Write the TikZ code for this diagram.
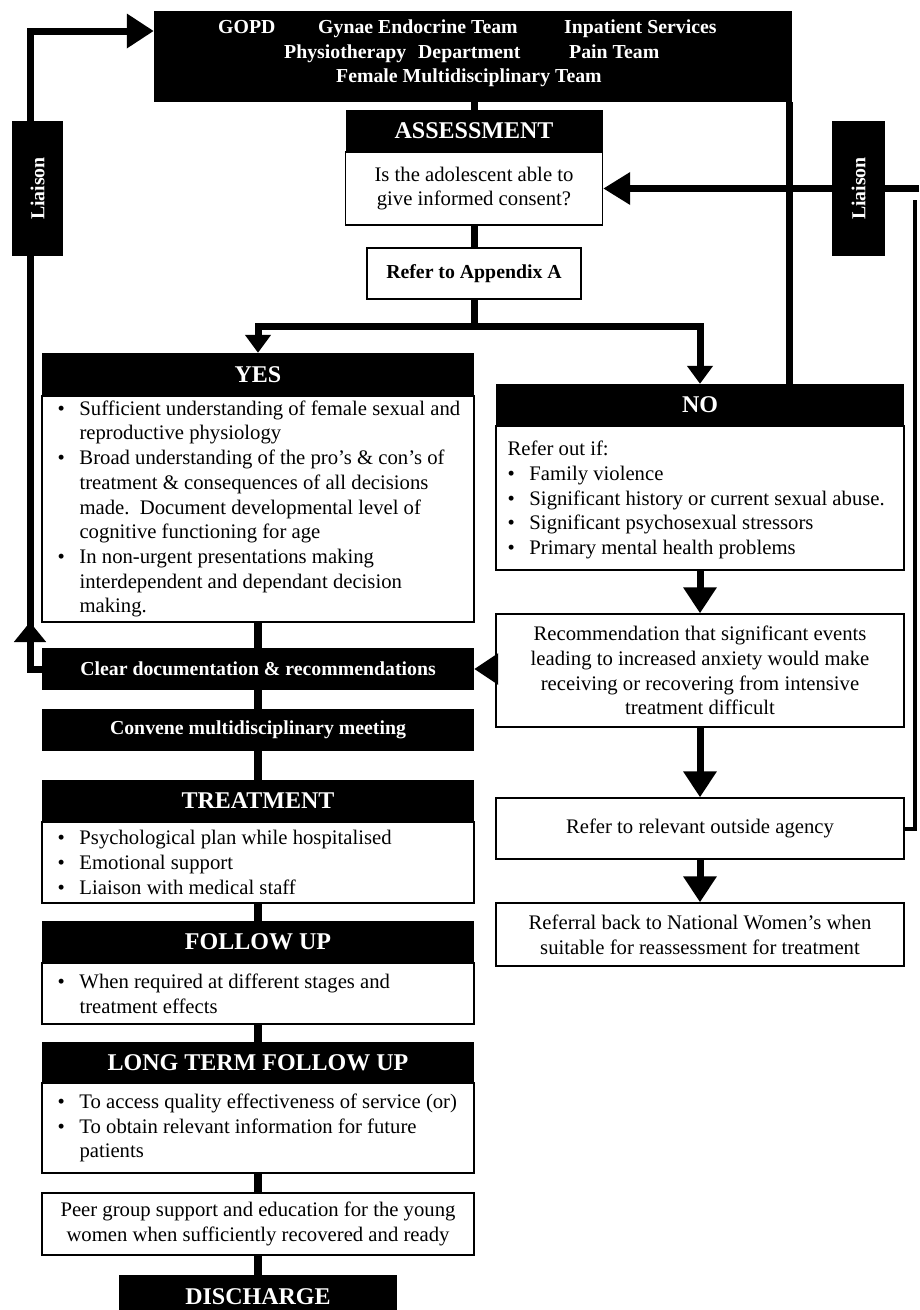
\documentclass[tikz,border=0pt]{standalone}
\usepackage{fontspec}
\usepackage{graphicx}
\setmainfont{Liberation Serif}
\usetikzlibrary{arrows.meta}
\newcommand\bodyf{\fontsize{20.7}{24.7}\selectfont}
\newcommand\headf{\fontsize{24}{28}\selectfont\bfseries}
\newcommand\boldf{\fontsize{19.8}{24.5}\selectfont\bfseries}
\newcommand\bul{\makebox[22pt][l]{\textbullet}}
\newcommand\ind{\hspace*{22pt}}
\begin{document}
\begin{tikzpicture}[x=1pt,y=-1pt,
 every node/.style={inner sep=0pt},
 conn/.style={line width=7pt},
 lconn/.style={line width=8pt},
 big/.style={-{Triangle[length=26pt,width=32pt]}},
 small/.style={-{Triangle[length=18pt,width=25pt]}},
 wbox/.style={draw=black, line width=1.4pt, fill=white, align=center, font=\bodyf},
 hbox/.style={fill=black, text=white, font=\headf},
 sbox/.style={fill=black, text=white, font=\boldf},
 btext/.style={align=left, font=\bodyf, anchor=west},
 ttext/.style={text=white, font=\boldf, anchor=base west},
]
\useasboundingbox (0,0) rectangle (919,1310);
\fill[white] (0,0) rectangle (919,1310);

% top box
\node[fill=black, minimum width=638pt, minimum height=91pt] (topbox) at (473,56.5) {};
\node[ttext] (t1) at (218,33) {GOPD};
\node[ttext] (t2) at (318,33) {Gynae Endocrine Team};
\node[ttext] (t3) at (564,33) {Inpatient Services};
\node[ttext] (t4) at (284,58) {Physiotherapy};
\node[ttext] (t4b) at (418,58) {Department};
\node[ttext] (t5) at (569,58) {Pain Team};
\node[ttext] (t6) at (336,82) {Female Multidisciplinary Team};

% assessment
\node[wbox, minimum width=257pt, minimum height=73pt] (assbody) at (474,188.5) {Is the adolescent able to\\give informed consent?};
\node[hbox, minimum width=257pt, minimum height=42pt] (asshead) at (474,131) {ASSESSMENT};
\node[wbox, font=\boldf, minimum width=214pt, minimum height=51pt] (app) at (474,273.5) {Refer to Appendix A};

% YES
\node[wbox, minimum width=432pt, minimum height=226pt] (yesbody) at (258,509) {};
\node[btext] (yestext) at ([xshift=16pt]yesbody.west) {\bul Sufficient understanding of female sexual and\\
\ind reproductive physiology\\
\bul Broad understanding of the pro's \& con's of\\
\ind treatment \& consequences of all decisions\\
\ind made.\ \ Document developmental level of\\
\ind cognitive functioning for age\\
\bul In non-urgent presentations making\\
\ind interdependent and dependant decision\\
\ind making.};
\node[hbox, minimum width=432pt, minimum height=43pt] (yeshead) at (258,374.5) {YES};

% NO
\node[wbox, minimum width=408pt, minimum height=144pt] (nobody) at (700,498) {};
\node[btext] (notext) at ([xshift=12pt,yshift=-2pt]nobody.west) {Refer out if:\\
\bul Family violence\\
\bul Significant history or current sexual abuse.\\
\bul Significant psychosexual stressors\\
\bul Primary mental health problems};
\node[hbox, minimum width=408pt, minimum height=42pt] (nohead) at (700,405) {NO};

% right column
\node[wbox, minimum width=408pt, minimum height=113pt] (rec) at (700,670.5) {Recommendation that significant events\\leading to increased anxiety would make\\receiving or recovering from intensive\\treatment difficult};
\node[wbox, minimum width=408pt, minimum height=61pt] (refer) at (700,828.5) {Refer to relevant outside agency};
\node[wbox, minimum width=408pt, minimum height=63pt] (referral) at (700,934.5) {Referral back to National Women's when\\suitable for reassessment for treatment};

% left column
\node[sbox, minimum width=432pt, minimum height=42pt] (clear) at (258,669) {Clear documentation \& recommendations};
\node[sbox, minimum width=432pt, minimum height=42pt] (convene) at (258,730) {Convene multidisciplinary meeting};

\node[wbox, minimum width=432pt, minimum height=81pt] (trbody) at (258,862.5) {};
\node[btext] (trtext) at ([xshift=16pt]trbody.west) {\bul Psychological plan while hospitalised\\
\bul Emotional support\\
\bul Liaison with medical staff};
\node[hbox, minimum width=432pt, minimum height=42pt] (trhead) at (258,801) {TREATMENT};

\node[wbox, minimum width=432pt, minimum height=61pt] (fubody) at (258,993.5) {};
\node[btext] (futext) at ([xshift=16pt]fubody.west) {\bul When required at different stages and\\
\ind treatment effects};
\node[hbox, minimum width=432pt, minimum height=42pt] (fuhead) at (258,942) {FOLLOW UP};

\node[wbox, minimum width=432pt, minimum height=90pt] (ltbody) at (258,1128) {};
\node[btext] (lttext) at ([xshift=16pt]ltbody.west) {\bul To access quality effectiveness of service (or)\\
\bul To obtain relevant information for future\\
\ind patients};
\node[hbox, minimum width=432pt, minimum height=41pt] (lthead) at (258,1062.5) {LONG TERM FOLLOW UP};

\node[wbox, minimum width=432pt, minimum height=62pt] (peer) at (258,1224) {Peer group support and education for the young\\women when sufficiently recovered and ready};
\node[hbox, minimum width=278pt, minimum height=43pt] (dis) at (258,1296.5) {DISCHARGE};

% connectors center
\draw[conn] (topbox.south -| asshead.north) -- (asshead.north);
\draw[conn] (assbody.south) -- (app.north);
\coordinate (br) at (474,326);
\draw[conn] (app.south) -- (br);
\draw[conn, small] (br) -| (yeshead.north);
\draw[conn, small] (br) -| (nohead.north);

% left column connectors
\draw[lconn] (yesbody.south) -- (clear.north);
\draw[lconn] (clear.south) -- (convene.north);
\draw[lconn] (convene.south) -- (trhead.north);
\draw[lconn] (trbody.south) -- (fuhead.north);
\draw[lconn] (fubody.south) -- (lthead.north);
\draw[lconn] (ltbody.south) -- (peer.north);
\draw[lconn] (peer.south) -- (dis.north);

% right column arrows
\draw[conn, big] (nobody.south) -- (rec.north);
\draw[conn, big] (rec.south) -- (refer.north);
\draw[conn, big] (refer.south) -- (referral.north);
\draw[conn, -{Triangle[length=24pt,width=30pt]}] (clear.east -| rec.west) -- (clear.east);

% left liaison loop
\coordinate (ltop) at (30,31);
\coordinate (lmid1) at (30,642);
\coordinate (lmid2) at (30,622);
\draw[conn, line join=miter, -{Triangle[length=27pt,width=33pt]}] (clear.west) -| (ltop) -- (topbox.west |- ltop);
\draw[conn, -{Triangle[length=20pt,width=31pt]}] (lmid1) -- (lmid2);

% right liaison lines
\coordinate (rtop) at (919,188.5);
\draw[conn, -{Triangle[length=27pt,width=31pt]}] (rtop) -- (assbody.east);
\coordinate (rx) at (789,0);
\draw[conn] (nohead.north -| rx) -- (topbox.south -| rx);
\coordinate (r2) at (915,200);
\draw[line width=4pt, line join=miter] (refer.east) -| (r2);

% liaison boxes
\node[sbox, minimum width=51pt, minimum height=135pt] (liaL) at (37.5,188.5) {\rotatebox{90}{Liaison}};
\node[sbox, minimum width=53pt, minimum height=135pt] (liaR) at (858.5,188.5) {\rotatebox{90}{Liaison}};
\end{tikzpicture}
\end{document}
